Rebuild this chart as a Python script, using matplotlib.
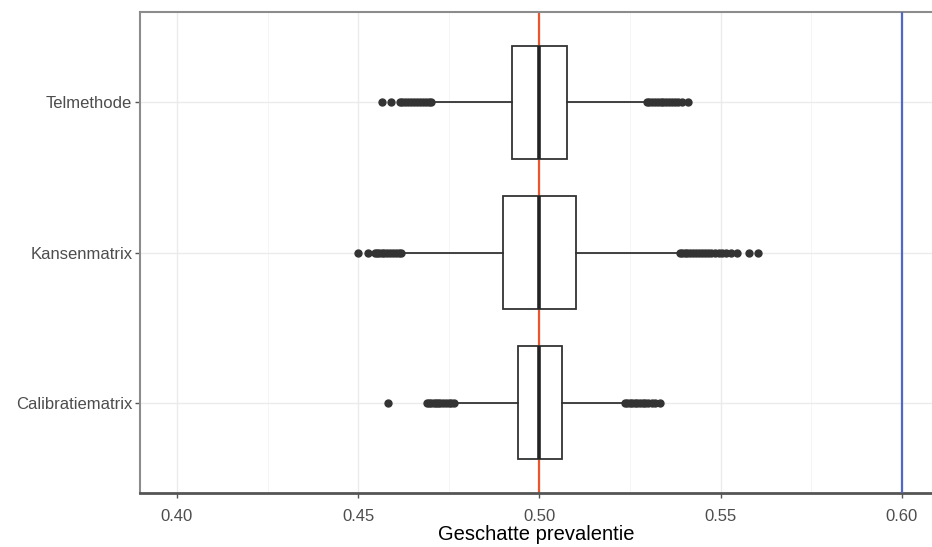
import numpy as np
import matplotlib.pyplot as plt

plt.rcParams['font.family'] = ['Liberation Sans', 'DejaVu Sans']

# data (bottom to top)
methods = ['Calibratiematrix', 'Kansenmatrix', 'Telmethode']
q1 = [0.4940, 0.4900, 0.4923]
med = [0.5000, 0.5000, 0.5000]
q3 = [0.5061, 0.5101, 0.5077]
whislo = [0.4772, 0.4620, 0.4709]
whishi = [0.5231, 0.5382, 0.5291]
fliers_cal = [0.4583, 0.4691, 0.4696, 0.4702, 0.4708, 0.4714, 0.4720, 0.4727,
              0.4734, 0.4742, 0.4750, 0.4757, 0.4765,
              0.5236, 0.5242, 0.5249, 0.5256, 0.5263, 0.5270, 0.5278, 0.5285,
              0.5292, 0.5300, 0.5310, 0.5320, 0.5333]
fliers_kans = [0.4500, 0.4527, 0.4546, 0.4552, 0.4558, 0.4565, 0.4572, 0.4580,
               0.4588, 0.4596, 0.4604, 0.4612, 0.4617,
               0.5387, 0.5394, 0.5401, 0.5408, 0.5416, 0.5424, 0.5432, 0.5440,
               0.5448, 0.5456, 0.5465, 0.5474, 0.5484, 0.5494, 0.5505, 0.5516,
               0.5528, 0.5544, 0.5578, 0.5603]
fliers_tel = [0.4567, 0.4590, 0.4615, 0.4622, 0.4630, 0.4638, 0.4646, 0.4654,
              0.4662, 0.4670, 0.4678, 0.4686, 0.4694, 0.4702,
              0.5296, 0.5303, 0.5310, 0.5318, 0.5326, 0.5334, 0.5342, 0.5350,
              0.5358, 0.5366, 0.5374, 0.5382, 0.5392, 0.5409]
fliers = [fliers_cal, fliers_kans, fliers_tel]
true_value = 0.50
target_value = 0.60
xticks = [0.40, 0.45, 0.50, 0.55, 0.60]

stats = []
for i in range(len(methods)):
    stats.append(dict(med=med[i], q1=q1[i], q3=q3[i], whislo=whislo[i],
                      whishi=whishi[i], fliers=fliers[i], label=methods[i]))

fig = plt.figure(figsize=(9.32, 5.47), dpi=100)
ax = fig.add_axes([0.1502, 0.0987, 0.8498, 0.8793])

# grid like theme_bw
for x in np.arange(0.40, 0.61, 0.05):
    ax.axvline(x, color='#EBEBEB', lw=1.0, zorder=0)
for x in np.arange(0.425, 0.61, 0.05):
    ax.axvline(x, color='#F4F4F4', lw=0.6, zorder=0)
for y in range(1, 4):
    ax.axhline(y, color='#EBEBEB', lw=1.0, zorder=0)

ax.bxp(stats, positions=[1, 2, 3], widths=0.75, vert=False, showcaps=False,
       patch_artist=True,
       boxprops=dict(facecolor='white', edgecolor='#333333', linewidth=1.3),
       whiskerprops=dict(color='#333333', linewidth=1.3),
       medianprops=dict(color='#222222', linewidth=2.6),
       flierprops=dict(marker='o', markersize=5, markerfacecolor='#333333',
                       markeredgecolor='#333333'), zorder=2)

ax.axvline(true_value, color='#E8552E', lw=1.6, zorder=1)
ax.axvline(target_value, color='#4F68C6', lw=1.6, zorder=3)

ax.set_xlim(0.3898, 0.6083)
ax.set_ylim(0.4, 3.6)
ax.set_xticks(xticks)
ax.set_xticklabels(['%.2f' % v for v in xticks])
ax.set_yticks([1, 2, 3])
ax.set_yticklabels(methods)
ax.tick_params(axis='both', colors='#555555', labelsize=12, length=3.5,
               width=1.0)
ax.tick_params(axis='x', pad=8)
ax.tick_params(axis='y', pad=2)
ax.tick_params(axis='both', labelcolor='#4D4D4D')
ax.set_xlabel('Geschatte prevalentie', fontsize=14.5, color='black', labelpad=1)

for s in ['left', 'top']:
    ax.spines[s].set_color('#8C8C8C')
    ax.spines[s].set_linewidth(1.5)
ax.spines['bottom'].set_color('#555555')
ax.spines['bottom'].set_linewidth(2.0)
ax.spines['right'].set_visible(False)

fig.savefig('out.png', dpi=100)
